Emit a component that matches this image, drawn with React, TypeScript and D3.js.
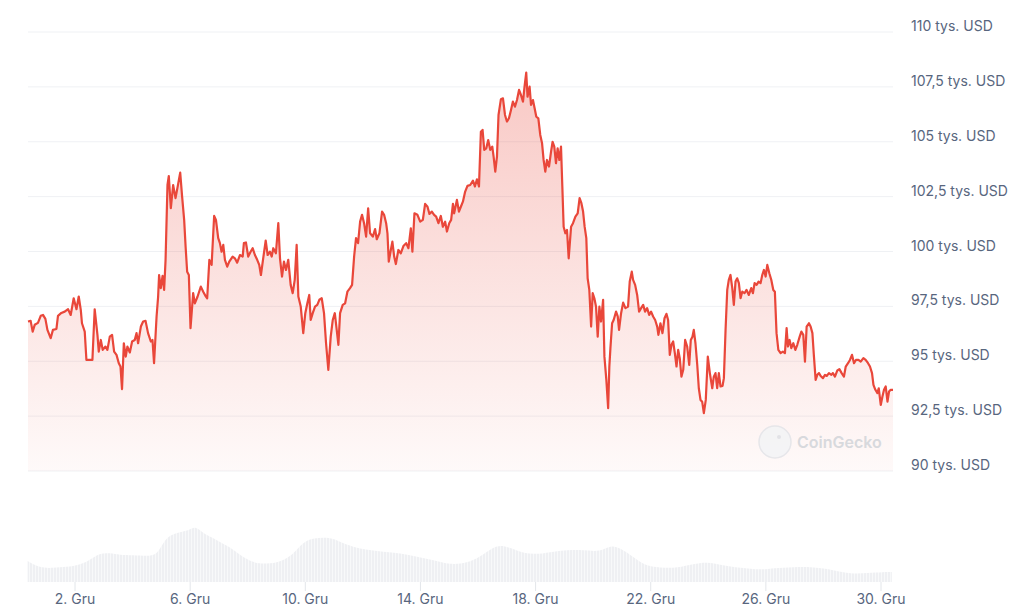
import React from "react";
import * as d3 from "d3";

// Hours since 30 Nov 2024 00:00 UTC
const hours = [
  8.8,11.0,12.7,14.4,17.1,19.4,21.3,23.3,25.0,27.7,
  29.6,32.5,33.8,36.6,39.4,42.2,44.4,46.9,49.2,51.1,
  52.8,53.8,56.1,57.5,60.3,62.5,64.4,66.7,67.8,69.5,
  71.1,73.4,75.0,77.0,78.9,80.6,82.6,84.5,85.9,87.2,
  88.7,90.3,91.7,93.7,95.6,97.8,99.3,100.6,102.9,104.8,
  106.8,108.9,111.2,112.6,113.9,116.0,117.3,118.1,119.5,121.0,
  122.3,123.5,125.1,126.2,127.9,129.8,131.8,134.0,135.7,137.3,
  139.0,140.2,141.5,142.9,144.3,146.5,147.9,150.2,
  152.9,154.9,156.7,158.2,
  160.0,161.9,164.0,165.5,167.4,168.8,170.2,171.6,173.0,174.9,
  176.6,179.4,181.3,183.2,185.5,187.8,188.8,190.5,192.4,194.4,
  196.1,198.0,199.9,201.6,203.0,204.9,207.0,208.6,210.5,212.0,
  213.3,215.5,217.5,218.9,220.6,222.2,223.9,225.8,227.8,229.5,
  231.2,232.8,234.2,236.2,238.3,240.0,241.7,243.3,244.5,246.2,
  248.1,250.0,251.7,253.7,255.6,257.3,259.2,261.2,262.9,264.6,
  266.2,267.6,269.0,271.2,273.2,275.1,277.3,279.0,280.7,282.3,
  284.0,285.7,287.3,289.0,290.7,292.4,294.0,296.3,298.2,299.6,
  301.8,304.0,305.7,307.4,308.5,309.6,311.3,312.6,314.1,315.5,
  317.6,319.6,321.8,324.1,326.0,328.0,329.3,331.0,333.5,335.8,
  338.0,339.9,341.9,343.5,345.5,347.4,349.1,351.0,353.0,354.7,
  356.6,358.1,360.0,361.6,363.1,364.1,366.4,368.1,369.7,371.4,
  373.3,375.2,377.5,379.8,381.4,383.1,384.8,386.4,387.8,389.2,
  390.9,392.5,394.2,395.9,397.0,398.4,399.8,401.1,403.1,404.8,
  406.5,408.1,409.8,411.5,413.1,414.8,416.5,418.2,419.8,421.5,
  422.8,424.2,425.3,427.0,428.2,429.8,431.2,432.6,434.3,435.9,
  437.4,438.7,440.1,441.5,443.2,444.9,446.2,447.6,449.0,450.4,
  451.8,453.2,454.3,455.4,456.8,458.2,459.6,
  461.6,463.2,465.2,467.1,468.7,470.2,471.6,472.9,474.3,475.4,
  476.8,478.3,479.6,481.0,482.4,483.8,485.2,486.6,488.3,489.4,
  491.0,492.5,493.5,494.4,495.8,497.1,499.1,500.5,501.6,503.3,
  505.0,506.9,509.1,510.5,512.2,513.3,515.0,516.7,518.3,520.0,
  521.7,523.3,525.0,526.7,528.3,530.0,531.7,533.4,534.4,536.1,
  537.8,539.5,541.1,542.5,543.9,545.3,546.7,548.1,549.5,550.9,
  552.2,553.6,555.1,556.7,558.4,560.1,561.4,562.8,563.9,565.3,
  566.8,568.1,569.5,570.9,572.3,573.9,575.6,577.3,579.3,580.6,
  582.0,583.4,584.8,586.2,587.9,589.0,590.4,591.8,593.1,594.5,
  596.0,597.3,598.7,600.1,601.5,602.9,604.3,606.2,607.9,609.8,
  611.8,613.2,614.6,616.3,617.9,619.6,621.0,622.4,623.8,625.2,
  626.9,628.5,630.2,631.5,632.9,634.4,636.3,638.2,639.9,641.3,
  642.4,643.8,645.2,646.9,648.6,650.2,652.2,653.6,655.2,656.6,
  658.0,659.9,661.3,662.8,664.1,665.5,666.9,668.3,669.7,671.6,
  673.3,674.7,676.6,678.6,679.9,681.6,683.6,685.3,687.2,689.1,
  690.6,692.5,694.1,695.8,697.5,699.1,701.2,703.1,705.3,707.2,
  709.2,710.8,712.5,713.7,715.3,717.0,718.1,719.8,721.2,722.5,
  723.9,725.4,726.7,728.1,730.0,
];

// BTC price, thousands of USD
const prices = [
  96.81,96.84,96.35,96.66,96.75,97.07,97.11,96.93,96.43,96.05,
  96.43,96.47,97.07,97.20,97.26,97.37,97.11,97.87,97.37,97.95,
  97.34,96.73,96.35,95.06,95.06,95.06,97.37,96.20,95.44,95.97,
  95.52,95.67,95.52,96.12,96.20,95.44,95.29,94.91,94.76,93.73,
  95.82,95.21,95.67,95.40,95.90,95.97,96.28,95.82,96.58,96.81,
  96.84,96.28,95.90,95.97,94.91,97.04,97.95,98.93,98.33,98.89,
  98.25,99.62,103.03,103.44,101.97,103.03,102.43,103.08,103.59,102.50,
  101.44,100.22,99.08,98.93,96.51,98.10,97.64,97.95,
  98.40,98.17,97.98,97.87,
  99.62,99.39,101.62,101.44,100.61,100.38,99.99,100.30,99.62,99.31,
  99.54,99.77,99.69,99.49,99.84,99.77,100.38,100.41,99.77,99.99,
  100.15,99.84,99.62,99.39,98.93,99.69,100.50,99.84,99.99,99.77,
  100.15,99.92,101.29,99.69,98.86,99.54,99.16,99.62,98.48,98.10,
  98.71,100.30,97.95,97.49,96.28,97.19,97.64,98.02,96.88,97.19,
  97.49,97.57,97.80,97.87,97.19,95.82,94.61,96.12,96.88,97.19,
  96.43,95.75,97.19,97.57,97.64,98.17,98.33,98.48,99.77,100.61,
  100.38,101.36,101.67,101.29,100.68,101.97,100.83,100.68,101.02,100.56,
  100.83,101.82,101.67,101.29,100.83,99.54,100.07,100.45,99.77,99.43,
  100.07,99.92,100.25,100.38,100.15,101.06,99.99,101.74,101.67,101.36,
  101.44,102.17,102.04,101.71,101.82,101.67,101.59,101.29,101.62,101.13,
  101.36,100.91,101.29,101.44,102.17,101.74,102.35,101.82,102.04,102.27,
  102.73,102.99,103.03,103.23,102.96,103.29,102.96,105.46,105.54,104.63,
  104.70,105.08,104.63,104.78,104.32,103.64,104.32,106.22,106.94,106.98,
  106.22,105.92,106.07,106.45,106.83,106.60,106.90,107.36,107.13,106.83,
  107.51,108.15,107.05,107.51,106.68,106.90,106.53,106.14,106.07,105.31,
  104.93,104.17,103.64,104.17,103.87,104.55,105.00,104.78,104.02,104.70,
  104.17,104.78,102.96,101.13,100.83,100.98,99.69,
  101.13,101.29,101.59,101.74,102.43,102.20,101.82,101.13,100.61,98.78,
  98.25,96.58,98.10,97.87,97.49,96.12,97.49,96.81,97.80,95.21,
  94.15,92.86,94.76,95.60,96.73,96.88,97.26,97.04,96.43,97.19,
  97.67,97.42,97.49,98.63,99.08,98.71,98.48,98.02,97.26,97.42,
  97.57,97.26,97.42,97.11,97.26,97.04,96.88,96.58,96.20,96.73,
  96.28,96.96,97.16,96.88,95.29,95.75,95.90,95.37,94.76,95.52,
  95.14,94.30,94.61,95.97,95.67,94.83,95.97,96.12,96.43,95.82,
  94.83,93.77,93.24,93.16,92.64,93.24,95.21,94.46,93.77,94.30,
  94.46,93.77,94.46,93.85,93.88,94.23,96.43,98.25,98.71,98.93,
  98.33,97.57,98.63,98.78,98.56,97.87,98.17,98.10,98.25,98.02,
  98.33,98.10,98.56,98.48,98.63,98.56,98.93,99.16,98.86,99.39,
  99.01,98.71,98.25,98.17,96.28,95.52,95.37,95.44,95.37,96.51,
  95.67,95.97,95.60,95.82,95.52,95.75,96.12,96.35,96.20,94.98,
  96.58,96.73,96.58,96.28,95.21,94.15,94.38,94.46,94.33,94.23,
  94.38,94.33,94.46,94.38,94.46,94.30,94.58,94.64,94.46,94.30,
  94.76,94.91,95.06,95.29,94.91,95.06,95.06,94.98,95.14,95.06,
  94.91,94.76,94.46,93.92,93.70,93.55,93.77,93.01,93.39,93.70,
  93.85,93.16,93.62,93.70,93.70,
];

// Volume (bln USD)
const volHours = [
  8.5,18.5,29.4,41.1,51.9,60.3,68.6,77.0,85.3,96.2,
  107.9,116.2,121.2,127.1,135.4,143.8,147.9,154.6,163.0,168.8,
  177.1,185.5,196.3,208.0,218.9,229.7,238.1,246.4,260.6,269.0,
  279.8,291.5,304.9,319.1,333.3,346.6,360.8,375.0,385.8,396.7,
  405.0,416.7,430.1,444.3,458.5,471.8,486.0,494.4,502.7,513.6,
  521.9,536.1,550.3,563.7,575.3,586.2,602.9,619.6,630.4,647.1,
  663.8,680.5,694.7,708.9,722.3,729.0,
];
const volumes = [
  42,28,28,30,34,44,58,58,54,54,
  52,54,78,94,100,104,112,98,88,80,
  70,54,38,36,40,54,80,88,90,80,
  70,64,60,58,50,44,34,38,50,70,
  74,62,54,60,64,64,60,74,68,50,
  34,28,28,36,40,34,28,24,28,30,
  30,24,16,18,20,20,
];

const yTicks = [90, 92.5, 95, 97.5, 100, 102.5, 105, 107.5, 110];
const xTickDays = [2, 6, 10, 14, 18, 22, 26, 30];
const monthLabel = "Gru";

const W = 1024;
const H = 615;
const FONT = "Inter, 'Noto Sans', 'DejaVu Sans', sans-serif";
const LINE = "#e9473a";

const base = Date.UTC(2024, 10, 30);
const toDate = (h: number) => new Date(base + h * 3600e3);

export default function App() {
  const n = Math.min(hours.length, prices.length);
  const data = d3.range(n).map((i) => ({ t: toDate(hours[i]), p: prices[i] }));
  const vol = d3.range(Math.min(volHours.length, volumes.length)).map((i) => ({
    t: toDate(volHours[i]),
    v: volumes[i],
  }));

  const x = d3
    .scaleUtc()
    .domain([toDate(hours[0]), toDate(hours[n - 1])])
    .range([28, 893]);
  const y = d3.scaleLinear().domain([90, 110]).range([471, 32]);
  const yv = d3.scaleLinear().domain([0, 112]).range([582, 526]);

  const line = d3
    .line<{ t: Date; p: number }>()
    .x((d) => x(d.t))
    .y((d) => y(d.p))
    .curve(d3.curveLinear);
  const area = d3
    .area<{ t: Date; p: number }>()
    .x((d) => x(d.t))
    .y0(y(90))
    .y1((d) => y(d.p))
    .curve(d3.curveLinear);
  const volArea = d3
    .area<{ t: Date; v: number }>()
    .x((d) => x(d.t))
    .y0(yv(0))
    .y1((d) => yv(d.v))
    .curve(d3.curveBasis);

  const fmt = (v: number) => `${String(v).replace(".", ",")} tys. USD`;

  return (
    <svg
      width={W}
      height={H}
      style={{ position: "absolute", left: 0, top: 0, background: "#fff" }}
      fontFamily={FONT}
    >
      <defs>
        <linearGradient id="fillGrad" gradientUnits="userSpaceOnUse" x1="0" y1={y(108.5)} x2="0" y2={y(90)}>
          <stop offset="0%" stopColor={LINE} stopOpacity={0.3} />
          <stop offset="100%" stopColor={LINE} stopOpacity={0.03} />
        </linearGradient>
        <pattern id="volPat" width="3" height="10" patternUnits="userSpaceOnUse">
          <rect width="3" height="10" fill="#eff0f3" />
          <rect x="2" width="1" height="10" fill="#f8f9fa" />
        </pattern>
      </defs>

      {/* grid */}
      {yTicks.map((t) => (
        <line key={t} x1={28} x2={893} y1={y(t)} y2={y(t)} stroke="#eff1f4" strokeWidth={1} />
      ))}

      {/* volume */}
      <path d={volArea(vol) || ""} fill="url(#volPat)" />

      {/* price area & line */}
      <path d={area(data) || ""} fill="url(#fillGrad)" />
      <path d={line(data) || ""} fill="none" stroke={LINE} strokeWidth={2.2} strokeLinejoin="round" />

      {/* watermark */}
      <g opacity={0.9}>
        <circle cx={775} cy={442} r={16} fill="#f4f4f6" stroke="#e4e5e9" strokeWidth={1.5} />
        <circle cx={779} cy={437} r={2} fill="#e0e1e5" />
        <text x={797} y={448} fontSize={16} fontWeight={600} fill="#d4d6db">
          CoinGecko
        </text>
      </g>

      {/* y labels */}
      {yTicks.map((t) => (
        <text key={t} x={911} y={y(t) - 1} fontSize={14} fill="#58667e">
          {fmt(t)}
        </text>
      ))}

      {/* x ticks */}
      {xTickDays.map((d) => {
        const xx = x(new Date(Date.UTC(2024, 11, d)));
        return (
          <g key={d}>
            <line x1={xx} x2={xx} y1={582} y2={591} stroke="#e3e6ea" strokeWidth={1} />
            <text x={xx} y={604} fontSize={14} fill="#58667e" textAnchor="middle">
              {`${d}. ${monthLabel}`}
            </text>
          </g>
        );
      })}
    </svg>
  );
}
